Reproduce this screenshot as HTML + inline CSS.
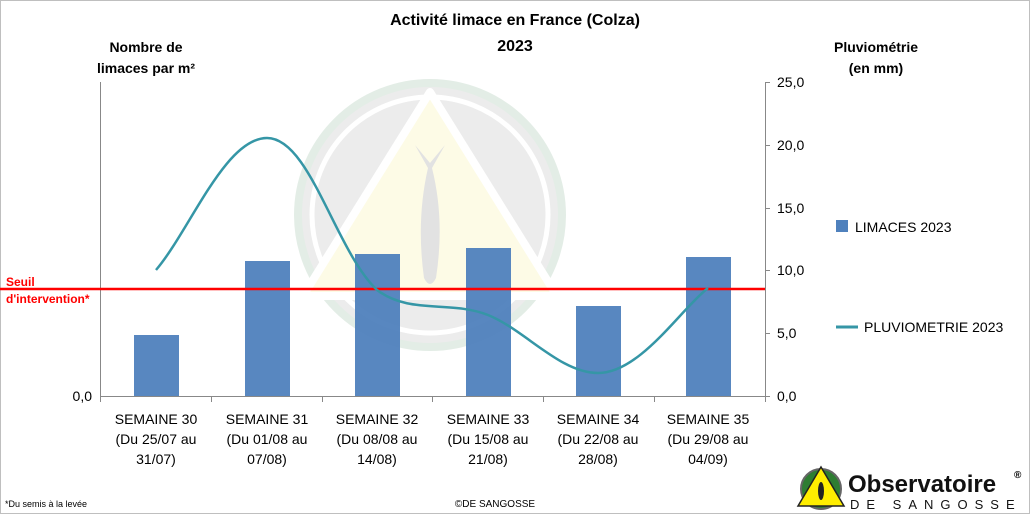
<!DOCTYPE html>
<html><head><meta charset="utf-8"><style>
body{margin:0;background:#fff}
svg{display:block;font-family:"Liberation Sans",Arial,sans-serif}
</style></head><body>
<svg width="1030" height="514" viewBox="0 0 1030 514" xmlns="http://www.w3.org/2000/svg">
<rect x="0.5" y="0.5" width="1029" height="513" fill="#fff" stroke="#bfbfbf"/>
<!-- watermark -->
<circle cx="430" cy="215" r="132" fill="#ececec" stroke="#e3ede6" stroke-width="8"/>
<circle cx="430" cy="215" r="118" fill="none" stroke="#fff" stroke-width="5"/>
<polygon points="430,92 557,296 303,296" fill="#fdfbe6" stroke="#fff" stroke-width="8" stroke-linejoin="round"/>
<path d="M415,145 L430,163 L445,145 L432,168 Q445,220 436,278 Q430,290 424,278 Q416,220 428,168 Z" fill="#e2e2e2"/>
<!-- titles -->
<text x="515" y="25" font-size="16" font-weight="bold" text-anchor="middle">Activité limace en France (Colza)</text>
<text x="515" y="51" font-size="16" font-weight="bold" text-anchor="middle">2023</text>
<text x="146" y="52" font-size="14" font-weight="bold" text-anchor="middle">Nombre de</text>
<text x="146" y="73" font-size="14" font-weight="bold" text-anchor="middle">limaces par m²</text>
<text x="876" y="52" font-size="14" font-weight="bold" text-anchor="middle">Pluviométrie</text>
<text x="876" y="73" font-size="14" font-weight="bold" text-anchor="middle">(en mm)</text>
<!-- bars -->
<g fill="#4f81bd" fill-opacity="0.95">
<rect x="134" y="335" width="45" height="61"/>
<rect x="245" y="261" width="45" height="135"/>
<rect x="355" y="254" width="45" height="142"/>
<rect x="466" y="248" width="45" height="148"/>
<rect x="576" y="306" width="45" height="90"/>
<rect x="686" y="257" width="45" height="139"/>
</g>
<!-- axes -->
<g stroke="#888" stroke-width="1">
<line x1="100.5" y1="82" x2="100.5" y2="396"/>
<line x1="765.5" y1="82" x2="765.5" y2="396"/>
<line x1="100" y1="396.5" x2="770" y2="396.5"/>
<line x1="765" y1="82.5" x2="770" y2="82.5"/>
<line x1="765" y1="145.5" x2="770" y2="145.5"/>
<line x1="765" y1="208.5" x2="770" y2="208.5"/>
<line x1="765" y1="270.5" x2="770" y2="270.5"/>
<line x1="765" y1="333.5" x2="770" y2="333.5"/>
<line x1="211.5" y1="396" x2="211.5" y2="402"/>
<line x1="322.5" y1="396" x2="322.5" y2="402"/>
<line x1="432.5" y1="396" x2="432.5" y2="402"/>
<line x1="543.5" y1="396" x2="543.5" y2="402"/>
<line x1="654.5" y1="396" x2="654.5" y2="402"/>
<line x1="100.5" y1="396" x2="100.5" y2="402"/>
<line x1="765.5" y1="396" x2="765.5" y2="402"/>
</g>
<g font-size="14" fill="#000">
<text x="92" y="401" text-anchor="end">0,0</text>
<text x="777" y="87">25,0</text><text x="777" y="150">20,0</text><text x="777" y="213">15,0</text>
<text x="777" y="275">10,0</text><text x="777" y="338">5,0</text><text x="777" y="401">0,0</text>
</g>
<!-- red threshold -->
<line x1="0" y1="289" x2="765" y2="289" stroke="#ff0000" stroke-width="2.5"/>
<text x="6" y="286" font-size="12" font-weight="bold" fill="#ff0000">Seuil</text>
<text x="6" y="303" font-size="12" font-weight="bold" fill="#ff0000">d'intervention*</text>
<!-- line -->
<path d="M156,270 C190,230 225,138 267,138 C310,138 335,250 377,290 C410,315 450,300 488,315 C525,330 560,373 598,373 C640,373 680,310 708,288" fill="none" stroke="#3596a6" stroke-width="2.5"/>
<!-- legend -->
<rect x="836" y="220" width="12" height="12" fill="#4f81bd"/>
<text x="855" y="232" font-size="14">LIMACES 2023</text>
<line x1="836" y1="327" x2="858" y2="327" stroke="#3596a6" stroke-width="3"/>
<text x="864" y="332" font-size="14">PLUVIOMETRIE 2023</text>
<!-- category labels -->
<g font-size="14" text-anchor="middle">
<text x="156" y="424">SEMAINE 30</text><text x="156" y="444">(Du 25/07 au</text><text x="156" y="464">31/07)</text>
<text x="267" y="424">SEMAINE 31</text><text x="267" y="444">(Du 01/08 au</text><text x="267" y="464">07/08)</text>
<text x="377" y="424">SEMAINE 32</text><text x="377" y="444">(Du 08/08 au</text><text x="377" y="464">14/08)</text>
<text x="488" y="424">SEMAINE 33</text><text x="488" y="444">(Du 15/08 au</text><text x="488" y="464">21/08)</text>
<text x="598" y="424">SEMAINE 34</text><text x="598" y="444">(Du 22/08 au</text><text x="598" y="464">28/08)</text>
<text x="708" y="424">SEMAINE 35</text><text x="708" y="444">(Du 29/08 au</text><text x="708" y="464">04/09)</text>
</g>
<text x="5" y="507" font-size="9">*Du semis à la levée</text>
<text x="495" y="507" font-size="10" text-anchor="middle">©DE SANGOSSE</text>
<!-- logo -->
<circle cx="821" cy="489" r="20" fill="#2e7d32" stroke="#666" stroke-width="2"/>
<polygon points="821,467 844,506 798,506" fill="#ffee00" stroke="#222" stroke-width="1.5"/>
<ellipse cx="821" cy="491" rx="3" ry="9" fill="#222"/>
<text x="848" y="492" font-size="24" font-weight="bold" fill="#111">Observatoire</text>
<text x="1014" y="478" font-size="10" font-weight="bold">®</text>
<text x="850" y="509" font-size="13" letter-spacing="7" fill="#111">DE SANGOSSE</text>
</svg>
</body></html>
